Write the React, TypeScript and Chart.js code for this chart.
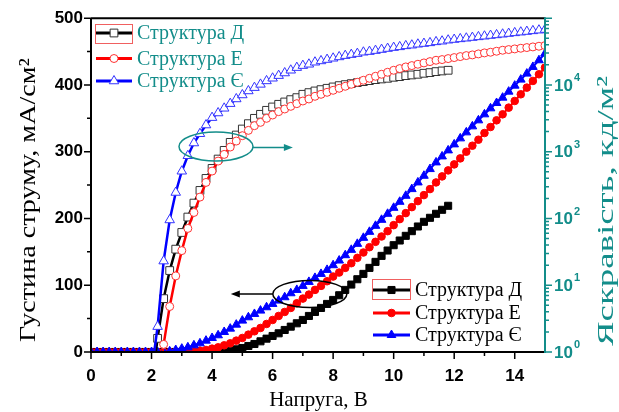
import React, { useEffect, useRef } from "react";
import { Chart, registerables } from "chart.js";

Chart.register(...registerables);

// ---------- DATA ----------
const voltage = [
  0, 0.2, 0.4, 0.6, 0.8, 1, 1.2, 1.4, 1.6, 1.8,
  2, 2.2, 2.4, 2.6, 2.8, 3, 3.2, 3.4, 3.6, 3.8,
  4, 4.2, 4.4, 4.6, 4.8, 5, 5.2, 5.4, 5.6, 5.8,
  6, 6.2, 6.4, 6.6, 6.8, 7, 7.2, 7.4, 7.6, 7.8,
  8, 8.2, 8.4, 8.6, 8.8, 9, 9.2, 9.4, 9.6, 9.8,
  10, 10.2, 10.4, 10.6, 10.8, 11, 11.2, 11.4, 11.6, 11.8,
  12, 12.2, 12.4, 12.6, 12.8, 13, 13.2, 13.4, 13.6, 13.8,
  14, 14.2, 14.4, 14.6, 14.8, 15,
];

// current density, mA/cm2 (left axis)
const currentD = [
  0, 0, 0, 0, 0, 0, 0, 0, 0, 0,
  0, 0, 0, 0, 0, 0, 0, 0, 0, 0,
  0, 0, 1, 2, 4, 6, 9, 12, 16, 20,
  24, 28, 33, 38, 43, 48, 54, 60, 66, 72,
  78, 85, 93, 101, 109, 117, 126, 135, 144, 152,
  160, 167, 174, 181, 188, 195, 201, 207, 213, 219,
];
const currentE = [
  0, 0, 0, 0, 0, 0, 0, 0, 0, 0,
  0, 0, 0, 0, 0, 0, 0, 1, 2, 3,
  5, 7, 10, 13, 17, 21, 26, 31, 36, 42,
  48, 54, 60, 66, 73, 80, 86, 93, 99, 106,
  113, 119, 126, 133, 141, 149, 157, 165, 173, 181,
  190, 199, 208, 217, 226, 235, 244, 254, 263, 272,
  281, 290, 300, 309, 318, 328, 337, 347, 356, 366,
  376, 386, 396, 406, 416, 426,
];
const currentYe = [
  0, 0, 0, 0, 0, 0, 0, 0, 0, 0,
  0, 0, 0, 1, 3, 5, 7, 10, 13, 17,
  21, 25, 30, 35, 41, 47, 52, 57, 62, 67,
  72, 77, 82, 88, 93, 99, 105, 111, 117, 123,
  130, 137, 145, 153, 162, 171, 180, 189, 198, 207,
  216, 225, 234, 244, 254, 264, 274, 284, 293, 302,
  311, 320, 329, 338, 347, 356, 365, 373, 381, 390,
  399, 408, 417, 427, 437, 447,
];

// luminance, cd/m2 (right log axis)
const lumD = [
  null, null, null, null, null, null, null, null, null, null,
  0.3, 1.6, 6.3, 16.6, 34.7, 61.7, 105, 170, 263, 398,
  562, 776, 1047, 1380, 1778, 2188, 2630, 3162, 3631, 4169,
  4677, 5129, 5559, 6026, 6457, 7244, 7674, 8128, 8511, 8913,
  9333, 9772, 10116, 10471, 10839, 11220, 11614, 12023, 12303, 12589,
  13032, 13335, 13804, 14125, 14454, 14962, 15311, 15849, 16218, 16596,
];
const lumE = [
  null, null, null, null, null, null, null, null, null, null,
  null, 0.3, 1.3, 4.8, 13.8, 33, 71, 123, 209, 347,
  513, 724, 912, 1175, 1445, 1738, 2089, 2455, 2754, 3162,
  3548, 3981, 4365, 4786, 5248, 5754, 6166, 6761, 7244, 7762,
  8318, 8913, 9550, 10233, 10965, 11749, 12589, 13490, 14454, 15488,
  16596, 17579, 18621, 19498, 20417, 21380, 22387, 23442, 23988, 24831,
  25704, 26607, 27542, 28184, 29174, 30200, 30903, 31989, 33113, 33884,
  34674, 35481, 36308, 37154, 38019, 38905,
];
const lumYe = [
  null, null, null, null, null, null, null, null, null, null,
  0.5, 2.4, 23, 95, 245, 510, 870, 1350, 1860, 2510,
  3240, 3800, 4470, 5250, 6170, 7080, 8130, 9120, 10200, 11500,
  12600, 13800, 15100, 16600, 18200, 19500, 20400, 21900, 22900, 24000,
  25100, 26300, 27500, 28500, 29500, 30900, 31600, 32700, 33900, 35100,
  36300, 37200, 38500, 39400, 40700, 41700, 42700, 44200, 45200, 46800,
  47900, 49000, 50100, 51300, 52500, 53700, 55000, 56200, 57500, 58900,
  60300, 61700, 63100, 64600, 66100, 67600,
];

const xTickValues = [0, 2, 4, 6, 8, 10, 12, 14];
const xMinorValues = [1, 3, 5, 7, 9, 11, 13];
const yTickValues = [0, 100, 200, 300, 400, 500];
const yMinorValues = [50, 150, 250, 350, 450];
const y2Decades = [1, 10, 100, 1000, 10000, 100000];
const y2LabelExponents = ["0", "1", "2", "3", "4"];

const seriesNames = ["Структура Д", "Структура Е", "Структура Є"];
const xTitle = "Напруга, В";
const yTitle = "Густина струму, мА/см²";
const y2Title = "Яскравість, кд/м²";

// ---------- STYLE ----------
const TEAL = "#138d8a";
const SERIES_COLORS = ["#000000", "#ff0000", "#0000ff"];
const HOLLOW_BORDER = ["#333333", "#ff3333", "#3333ff"];
const SERIF = "'Liberation Serif', 'Times New Roman', serif";
const SANS = "'Liberation Sans', Arial, sans-serif";
const TICK_FONT_SIZE = 17;

function toPoints(arr: (number | null)[]) {
  const pts: { x: number; y: number }[] = [];
  arr.forEach((v, i) => {
    if (v !== null && v !== undefined) pts.push({ x: voltage[i], y: v });
  });
  return pts;
}

function drawMarker(ctx: CanvasRenderingContext2D, kind: string, x: number, y: number, r: number, fill: string, stroke: string) {
  ctx.save();
  ctx.beginPath();
  if (kind === "rect") {
    const h = r * Math.SQRT1_2;
    ctx.rect(x - h, y - h, 2 * h, 2 * h);
  } else if (kind === "circle") {
    ctx.arc(x, y, r, 0, Math.PI * 2);
  } else {
    const half = r * 0.866;
    ctx.moveTo(x, y - r);
    ctx.lineTo(x + half, y + r * 0.5);
    ctx.lineTo(x - half, y + r * 0.5);
    ctx.closePath();
  }
  ctx.fillStyle = fill;
  ctx.fill();
  ctx.lineWidth = 1;
  ctx.strokeStyle = stroke;
  ctx.stroke();
  ctx.restore();
}

const MARKERS = ["rect", "circle", "triangle"];

const decorPlugin = {
  id: "decor",
  afterDraw(chart: any) {
    const { ctx, chartArea: a, scales } = chart;
    const xs = scales.x, ys = scales.y, y2s = scales.y2;
    ctx.save();

    // frame
    ctx.lineWidth = 2;
    ctx.strokeStyle = "#000";
    ctx.beginPath();
    ctx.moveTo(a.left, a.top);
    ctx.lineTo(a.right, a.top);
    ctx.moveTo(a.left, a.top);
    ctx.lineTo(a.left, a.bottom);
    ctx.lineTo(a.right, a.bottom);
    ctx.stroke();
    ctx.strokeStyle = TEAL;
    ctx.beginPath();
    ctx.moveTo(a.right, a.top - 1);
    ctx.lineTo(a.right, a.bottom + 1);
    ctx.stroke();

    // tick marks
    ctx.lineWidth = 1.5;
    ctx.strokeStyle = "#000";
    ctx.beginPath();
    xTickValues.forEach((v) => { const p = xs.getPixelForValue(v); ctx.moveTo(p, a.bottom); ctx.lineTo(p, a.bottom + 7); });
    xMinorValues.forEach((v) => { const p = xs.getPixelForValue(v); ctx.moveTo(p, a.bottom); ctx.lineTo(p, a.bottom + 4); });
    yTickValues.forEach((v) => { const p = ys.getPixelForValue(v); ctx.moveTo(a.left, p); ctx.lineTo(a.left - 7, p); });
    yMinorValues.forEach((v) => { const p = ys.getPixelForValue(v); ctx.moveTo(a.left, p); ctx.lineTo(a.left - 4, p); });
    ctx.stroke();

    ctx.strokeStyle = TEAL;
    ctx.beginPath();
    y2Decades.forEach((d) => {
      const p = y2s.getPixelForValue(d);
      ctx.moveTo(a.right, p); ctx.lineTo(a.right + 7, p);
      if (d < 100000) {
        for (let m = 2; m <= 9; m++) {
          const q = y2s.getPixelForValue(d * m);
          ctx.moveTo(a.right, q); ctx.lineTo(a.right + 4, q);
        }
      }
    });
    ctx.stroke();

    // right axis labels 10^n
    ctx.fillStyle = TEAL;
    ctx.textBaseline = "middle";
    ctx.textAlign = "left";
    y2LabelExponents.forEach((e, i) => {
      const p = y2s.getPixelForValue(y2Decades[i]);
      ctx.font = `bold ${TICK_FONT_SIZE}px ${SANS}`;
      const bx = a.right + 9;
      ctx.fillText("10", bx, p + 1);
      const w = ctx.measureText("10").width;
      ctx.font = `bold 11px ${SANS}`;
      ctx.fillText(e, bx + w + 1, p - 7);
    });

    // annotations: teal ellipse + arrow (points to right axis)
    const ex = xs.getPixelForValue(4.13), ey = y2s.getPixelForValue(1200);
    ctx.strokeStyle = TEAL;
    ctx.fillStyle = TEAL;
    ctx.lineWidth = 1.5;
    ctx.beginPath();
    ctx.ellipse(ex, ey, 37, 14.5, 0, 0, Math.PI * 2);
    ctx.stroke();
    const ax1 = ex + 37, ax2 = xs.getPixelForValue(6.67);
    ctx.beginPath();
    ctx.moveTo(ax1, ey + 1);
    ctx.lineTo(ax2 - 6, ey + 1);
    ctx.stroke();
    ctx.beginPath();
    ctx.moveTo(ax2, ey + 1);
    ctx.lineTo(ax2 - 9, ey + 1 - 3.5);
    ctx.lineTo(ax2 - 9, ey + 1 + 3.5);
    ctx.closePath();
    ctx.fill();

    // black ellipse + arrow (points to left axis)
    const bx = xs.getPixelForValue(7.23), by = ys.getPixelForValue(87);
    ctx.strokeStyle = "#000";
    ctx.fillStyle = "#000";
    ctx.beginPath();
    ctx.ellipse(bx, by, 37, 13.5, 0, 0, Math.PI * 2);
    ctx.stroke();
    const bx1 = bx - 37, bx2 = xs.getPixelForValue(4.62);
    ctx.beginPath();
    ctx.moveTo(bx1, by);
    ctx.lineTo(bx2 + 6, by);
    ctx.stroke();
    ctx.beginPath();
    ctx.moveTo(bx2, by);
    ctx.lineTo(bx2 + 9, by - 3.5);
    ctx.lineTo(bx2 + 9, by + 3.5);
    ctx.closePath();
    ctx.fill();

    // legends
    const topRows = [33, 58.5, 81];
    const botRows = [290, 313, 335];
    ctx.font = `20px ${SERIF}`;
    ctx.textBaseline = "middle";
    ctx.textAlign = "left";
    seriesNames.forEach((name, i) => {
      // top legend: luminance (hollow markers)
      let y = topRows[i];
      ctx.strokeStyle = SERIES_COLORS[i];
      ctx.lineWidth = 3;
      ctx.beginPath();
      ctx.moveTo(96, y); ctx.lineTo(132, y);
      ctx.stroke();
      drawMarker(ctx, MARKERS[i], 114, y, i === 1 ? 4 : 5.5, "#fff", HOLLOW_BORDER[i]);
      ctx.fillStyle = TEAL;
      ctx.fillText(name, 137, y + 1);
      // bottom legend: current (filled markers)
      y = botRows[i];
      ctx.strokeStyle = SERIES_COLORS[i];
      ctx.lineWidth = 3;
      ctx.beginPath();
      ctx.moveTo(373, y); ctx.lineTo(410, y);
      ctx.stroke();
      drawMarker(ctx, MARKERS[i], 391.5, y, i === 1 ? 3.8 : 5, SERIES_COLORS[i], SERIES_COLORS[i]);
      ctx.fillStyle = "#000";
      ctx.fillText(name, 415, y + 1);
    });
    ctx.strokeStyle = "#f06060";
    ctx.lineWidth = 1;
    ctx.strokeRect(95.5, 24.5, 37, 19);
    ctx.strokeRect(372.5, 279.5, 38, 20);

    // axis titles (vertical titles are slightly elongated, as in the original figure)
    const drawTitle = (text: string, cx: number, cy: number, rot: number, color: string, size: number, target: number) => {
      ctx.save();
      ctx.font = `${size}px ${SERIF}`;
      ctx.fillStyle = color;
      ctx.translate(cx, cy);
      ctx.rotate(rot);
      const w = ctx.measureText(text).width;
      const s = target > 0 ? target / w : 1;
      ctx.scale(s, 1);
      ctx.textAlign = "center";
      ctx.textBaseline = "middle";
      ctx.fillText(text, 0, 0);
      ctx.restore();
    };
    drawTitle(xTitle, (a.left + a.right) / 2 + 0.5, 400, 0, "#000", 21, 0);
    drawTitle(yTitle, 29, 200, -Math.PI / 2, "#000", 23, 284);
    drawTitle(y2Title, 607, 211, -Math.PI / 2, TEAL, 23, 270);

    ctx.restore();
  },
};

export default function App() {
  const ref = useRef<HTMLCanvasElement | null>(null);

  useEffect(() => {
    if (!ref.current) return;
    const common = { tension: 0, fill: false, pointBorderWidth: 1, pointHoverRadius: 0 };
    const tickFont = { family: SANS, size: TICK_FONT_SIZE, weight: "bold" };
    const chart = new Chart(ref.current, {
      type: "line",
      data: {
        datasets: [
          { ...common, label: seriesNames[2] + " L", data: toPoints(lumYe), yAxisID: "y2", borderColor: SERIES_COLORS[2], borderWidth: 2.5, pointStyle: "triangle", pointRadius: 5.5, pointBorderColor: HOLLOW_BORDER[2], pointBackgroundColor: "#ffffff", order: 0 },
          { ...common, label: seriesNames[1] + " L", data: toPoints(lumE), yAxisID: "y2", borderColor: SERIES_COLORS[1], borderWidth: 2.5, pointStyle: "circle", pointRadius: 4, pointBorderColor: HOLLOW_BORDER[1], pointBackgroundColor: "#ffffff", order: 1 },
          { ...common, label: seriesNames[0] + " L", data: toPoints(lumD), yAxisID: "y2", borderColor: SERIES_COLORS[0], borderWidth: 2.5, pointStyle: "rect", pointRadius: 5.5, pointBorderColor: HOLLOW_BORDER[0], pointBackgroundColor: "#ffffff", order: 2 },
          { ...common, label: seriesNames[2] + " J", data: toPoints(currentYe), yAxisID: "y", borderColor: SERIES_COLORS[2], borderWidth: 2, pointStyle: "triangle", pointRadius: 5, pointBorderColor: SERIES_COLORS[2], pointBackgroundColor: SERIES_COLORS[2], order: 3 },
          { ...common, label: seriesNames[1] + " J", data: toPoints(currentE), yAxisID: "y", borderColor: SERIES_COLORS[1], borderWidth: 2, pointStyle: "circle", pointRadius: 3.8, pointBorderColor: SERIES_COLORS[1], pointBackgroundColor: SERIES_COLORS[1], order: 4 },
          { ...common, label: seriesNames[0] + " J", data: toPoints(currentD), yAxisID: "y", borderColor: SERIES_COLORS[0], borderWidth: 2, pointStyle: "rect", pointRadius: 5, pointBorderColor: SERIES_COLORS[0], pointBackgroundColor: SERIES_COLORS[0], order: 5 },
        ],
      },
      options: {
        responsive: false,
        animation: false,
        devicePixelRatio: 1,
        events: [],
        layout: { padding: { top: 17, left: 0, right: 0, bottom: 0 } },
        plugins: { legend: { display: false }, tooltip: { enabled: false } },
        scales: {
          x: {
            type: "linear",
            min: 0,
            max: 15,
            afterFit: (s: any) => { s.height = 60; },
            afterBuildTicks: (s: any) => { s.ticks = xTickValues.map((v) => ({ value: v })); },
            grid: { display: false, drawTicks: false },
            border: { display: false },
            ticks: { color: "#000", font: tickFont, padding: 14, maxRotation: 0, autoSkip: false },
          },
          y: {
            type: "linear",
            position: "left",
            min: 0,
            max: 500,
            afterFit: (s: any) => { s.width = 91; },
            afterBuildTicks: (s: any) => { s.ticks = yTickValues.map((v) => ({ value: v })); },
            grid: { display: false, drawTicks: false },
            border: { display: false },
            ticks: { color: "#000", font: tickFont, padding: 8, autoSkip: false },
          },
          y2: {
            type: "logarithmic",
            position: "right",
            min: 1,
            max: 100000,
            afterFit: (s: any) => { s.width = 74; },
            grid: { display: false, drawTicks: false },
            border: { display: false },
            ticks: { display: false },
          },
        },
      } as any,
      plugins: [decorPlugin],
    });
    return () => chart.destroy();
  }, []);

  return (
    <div style={{ position: "fixed", left: 0, top: 0, width: 619, height: 412, background: "#fff" }}>
      <canvas ref={ref} width={619} height={412} style={{ display: "block", width: 619, height: 412 }} />
    </div>
  );
}
